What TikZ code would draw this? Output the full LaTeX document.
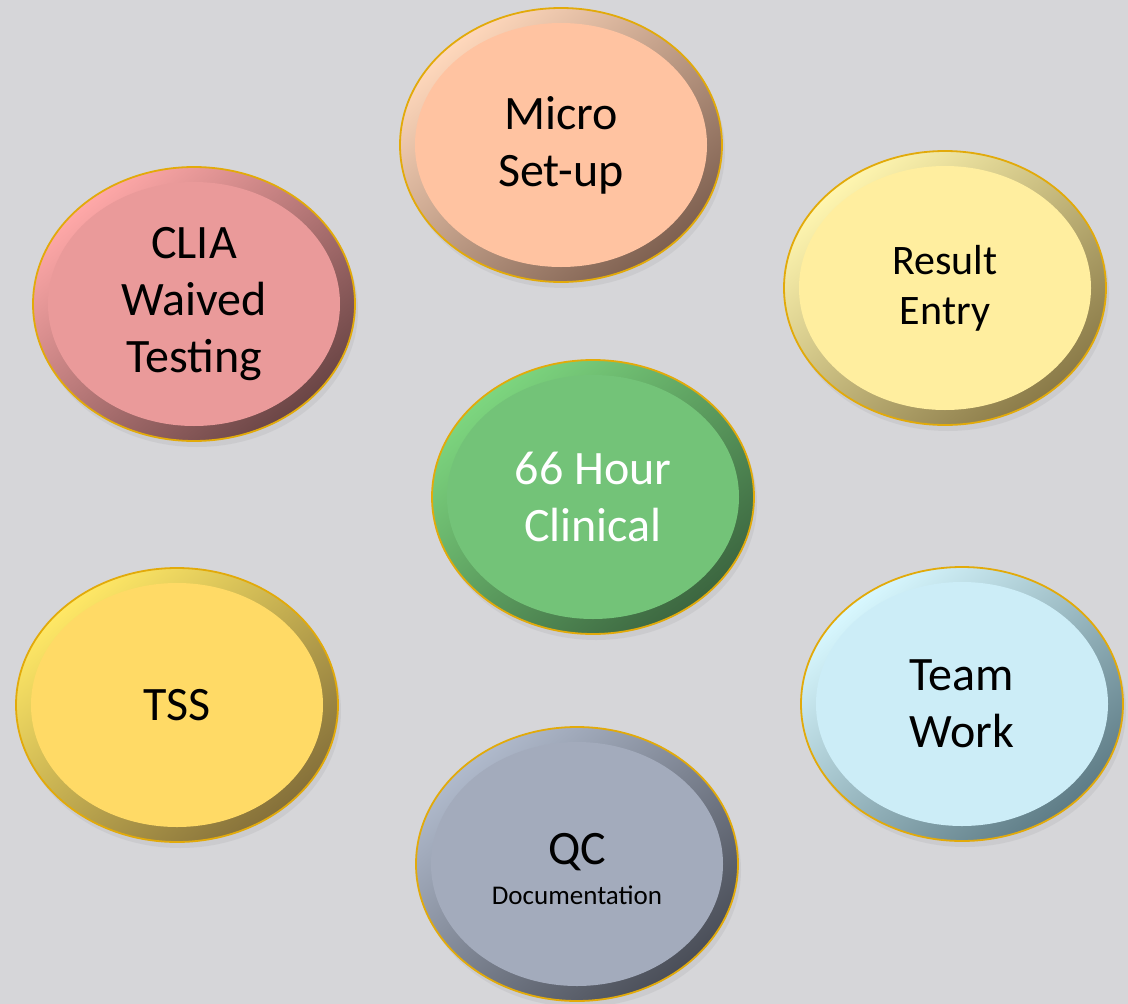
\documentclass[tikz,border=0pt]{standalone}
\usepackage{fontspec}
\setmainfont{Carlito}
\usetikzlibrary{shapes.geometric, shadows}

\definecolor{backgray}{RGB}{214,214,217}
\definecolor{rimgold}{RGB}{226,170,10}
% light rim, dark rim, face
\definecolor{microL}{RGB}{255,216,188}\definecolor{microD}{RGB}{126,96,80}\definecolor{microF}{RGB}{255,195,161}
\definecolor{resultL}{RGB}{255,246,176}\definecolor{resultD}{RGB}{138,122,72}\definecolor{resultF}{RGB}{255,238,159}
\definecolor{cliaL}{RGB}{255,168,168}\definecolor{cliaD}{RGB}{106,69,69}\definecolor{cliaF}{RGB}{234,154,154}
\definecolor{clinL}{RGB}{125,214,127}\definecolor{clinD}{RGB}{60,102,64}\definecolor{clinF}{RGB}{115,195,120}
\definecolor{tssL}{RGB}{255,232,102}\definecolor{tssD}{RGB}{133,112,58}\definecolor{tssF}{RGB}{255,218,102}
\definecolor{teamL}{RGB}{216,248,255}\definecolor{teamD}{RGB}{94,124,134}\definecolor{teamF}{RGB}{204,237,247}
\definecolor{qcL}{RGB}{176,186,204}\definecolor{qcD}{RGB}{74,78,88}\definecolor{qcF}{RGB}{163,171,188}

\tikzset{
  bubble/.style={ellipse, minimum width=322, minimum height=274, inner sep=0pt,
    draw=rimgold, line width=1.8pt, align=center, font=\fontsize{48}{57}\selectfont,
    drop shadow={opacity=0.12, shadow xshift=3pt, shadow yshift=-6pt},
    top color=#1L, bottom color=#1D, shading angle=40,
    path picture={\fill[#1F] (path picture bounding box.center) ellipse [x radius=146, y radius=122];}},
}

\begin{document}
\begin{tikzpicture}[x=1pt, y=-1pt]
  \fill[backgray] (0,0) rectangle (1128,1004);
  \useasboundingbox (0,0) rectangle (1128,1004);

  \node[bubble=micro] (micro) at (561,145) {Micro\\Set-up};
  \node[bubble=result, font=\fontsize{42}{50}\selectfont] (result) at (945,288) {Result\\Entry};
  \node[bubble=clia] (clia) at (194,304) {CLIA\\Waived\\Testing};
  \node[bubble=clin, text=white] (clinical) at (593,497) {66 Hour\\Clinical};
  \node[bubble=tss] (tss) at (177,705) {TSS};
  \node[bubble=team] (team) at (962,704) {Team\\Work};
  % node sits a little low so the small second line stays centred
  \node[bubble=qc] (qc) at (577,864) {};
  \node[align=center, font=\fontsize{48}{57}\selectfont] (qctext) at (577,869)
    {QC\\[-17pt]{\fontsize{27}{32}\selectfont Documentation}};
\end{tikzpicture}
\end{document}
